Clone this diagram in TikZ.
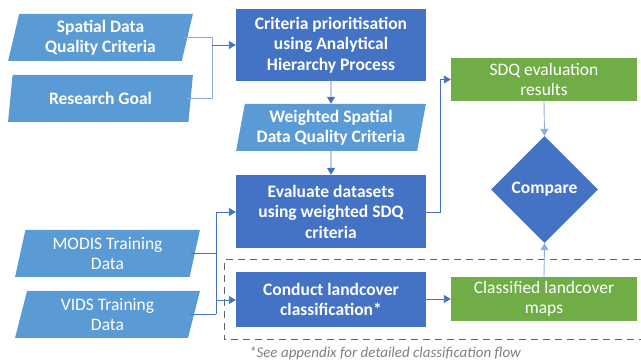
\documentclass[tikz,border=0pt]{standalone}
\usepackage{fontspec}
\setmainfont{Carlito}
\usetikzlibrary{shapes.geometric,arrows.meta,calc}
\definecolor{dblue}{HTML}{4472C4}
\definecolor{lblue}{HTML}{5B9BD5}
\definecolor{lgreen}{HTML}{70AD47}
\definecolor{lline}{HTML}{8FAADC}
\definecolor{frame}{HTML}{5A6474}
\begin{document}
\begin{tikzpicture}[x=1pt,y=-1pt,
  txt/.style={text=white,align=center,font=\fontsize{17.5}{20.5}\selectfont},
  btxt/.style={font=\bfseries\fontsize{17.5}{20.5}\selectfont},
  para/.style={txt,fill=lblue,trapezium,trapezium left angle=78,trapezium right angle=102,minimum width=176pt,minimum height=47pt,inner sep=0pt,trapezium stretches=true},
  pbox/.style={txt,btxt,fill=dblue,minimum width=190pt,inner sep=0pt},
  gbox/.style={txt,fill=lgreen,minimum width=186pt,inner sep=0pt},
  conn/.style={draw=dblue,line width=0.9pt,-{Triangle[length=7pt,width=8pt]}},
  lconn/.style={draw=lline,line width=1pt}
]
\useasboundingbox (0,0) rectangle (641,363);
% left inputs
\node[para,btxt,minimum width=185pt] (sdq) at (100.5,37.5) {Spatial Data\\Quality Criteria};
\node[para,btxt,minimum width=185pt] (goal) at (100.5,98.5) {Research Goal};
\node[para,minimum width=185pt] (modis) at (107.5,253.5) {MODIS Training\\Data};
\node[para,minimum width=185pt] (vids) at (107.5,314.5) {VIDS Training\\Data};
% centre column
\node[pbox,minimum height=72pt] (ahp) at (331,45) {Criteria prioritisation\\using Analytical\\Hierarchy Process};
\node[para,btxt,minimum width=190pt] (wsdq) at (331,127.5) {Weighted Spatial\\Data Quality Criteria};
\node[pbox,minimum height=73pt] (eval) at (331,211.5) {Evaluate datasets\\using weighted SDQ\\criteria};
\node[pbox,minimum height=55pt] (lc) at (331,299.5) {Conduct landcover\\classification*};
% right column
\node[gbox,minimum height=43pt] (res) at (544,79.5) {SDQ evaluation\\results};
\node[gbox,minimum height=44pt] (maps) at (544,299) {Classified landcover\\maps};
\node[diamond,fill=dblue,minimum width=107pt,minimum height=107pt,inner sep=0pt] (cmp) at (544.5,189.5) {};
\node[txt,btxt] (cmpt) at (544.5,189.5) {Compare};
% dashed frame
\coordinate (f1) at (641,260);
\coordinate (f2) at (224,260);
\coordinate (f3) at (224,340);
\coordinate (f4) at (641,340);
\draw[draw=frame,line width=1pt,dash pattern=on 7pt off 5pt] (f1) -- (f2) -- (f3) -- (f4);
% connectors
\coordinate (j1) at (212,45);
\draw[lconn] ($(sdq.east)+(-4,0)$) -| (j1);
\draw[lconn] ($(goal.east)+(-4,0)$) -| (j1);
\draw[conn] (j1) -- (ahp.west |- j1);
\draw[conn] (ahp.south) -- (wsdq.north);
\draw[conn] (wsdq.south) -- (eval.north);
\coordinate (j2) at (216,212);
\coordinate (j3) at (216,300);
\draw[draw=dblue,line width=0.9pt] ($(modis.east)+(-4,0)$) -- (modis.east -| j2);
\draw[draw=dblue,line width=0.9pt] ($(vids.east)+(-4,0)$) -- (vids.east -| j2);
\draw[draw=dblue,line width=0.9pt] (j2) -- (vids.east -| j2);
\draw[conn] (j2) -- (eval.west |- j2);
\draw[conn] (j3) -- (lc.west |- j3);
\coordinate (j4) at (440,212);
\draw[conn] (eval.east |- j4) -- (j4) |- (res.west);
\draw[conn,draw=lline] (res.south) -- (cmp.north);
\draw[conn,draw=lline] (maps.north) -- (cmp.south);
\draw[conn] (lc.east |- maps.west) -- (maps.west);
% caption
\node[text=gray,font=\itshape\fontsize{15}{18}\selectfont] (cap) at (385,353) {*See appendix for detailed classification flow};
\end{tikzpicture}
\end{document}
